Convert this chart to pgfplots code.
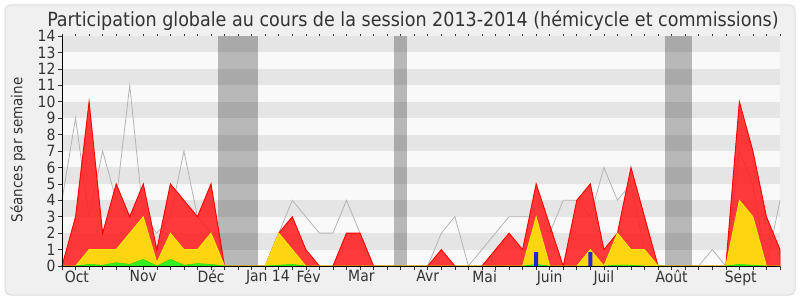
\documentclass[border=0pt]{standalone}
\usepackage{fontspec}
\setmainfont{DejaVu Sans Condensed}
\usepackage{pgfplots}
\usepackage{pgfplotstable}
\pgfplotsset{compat=1.18}
\definecolor{bgc}{HTML}{F0F0F0}
\definecolor{frame}{HTML}{DCDCDC}
\definecolor{stlight}{HTML}{F9F9F9}
\definecolor{stdark}{HTML}{E5E5E5}
\definecolor{redfill}{HTML}{FF2020}
\definecolor{yelfill}{HTML}{FFD410}
\definecolor{yelline}{HTML}{F2EE00}
\definecolor{grnfill}{HTML}{33EE22}
\definecolor{grnline}{HTML}{22DD00}
\definecolor{greyline}{HTML}{B4B4B4}
\definecolor{bluebar}{HTML}{2424D8}
\definecolor{txt}{HTML}{333333}
\pgfplotstableread{
x red yel grn gry
0 0 0 0 4
1 3 0 0 9
2 10 1 0.1 3
3 2 1 0.05 7
4 5 1 0.2 4
5 3 2 0.1 11
6 5 3 0.4 3
7 1 0.2 0 2
8 5 2 0.4 3
9 4 1 0.05 7
10 3 1 0.15 3
11 5 2 0.1 2
12 0 0 0 0
13 0 0 0 0
14 0 0 0 0
15 0 0 0 0
16 2 2 0.05 2
17 3 1 0.1 4
18 1 0 0 3
19 0 0 0 2
20 0 0 0 2
21 2 0 0 4
22 2 0 0 2
23 0 0 0 0
24 0 0 0 0
25 0 0 0 0
26 0 0 0 0
27 0 0 0 0
28 1 0 0 2
29 0 0 0 3
30 0 0 0 0
31 0 0 0 1
32 1 0 0 2
33 2 0 0 3
34 1 0 0 3
35 5 3 0.1 3
36 2.5 0 0 2
37 0 0 0 4
38 4 0 0 4
39 5 1 0 3
40 1 0 0 6
41 2 2 0.05 4
42 6 1 0.05 5
43 3 1 0 1
44 0 0 0 0
45 0 0 0 0
46 0 0 0 0
47 0 0 0 0
48 0 0 0 1
49 0 0 0 0
50 10 4 0.1 7
51 7 3 0.05 5
52 3 0 0 0
53 1 0 0 4
}\data
\begin{document}
\begin{tikzpicture}[x=1pt,y=1pt]
\fill[white] (0,0) rectangle (800,300);
\filldraw[fill=bgc, draw=frame, line width=1pt, rounded corners=5pt] (5,5) rectangle (795,295);
\node[anchor=base, text=txt, font=\fontsize{19.5}{19.5}\selectfont] at (413,273.3) {Participation globale au cours de la session 2013-2014 (hémicycle et commissions)};
\node[rotate=90, text=txt, font=\fontsize{15}{15}\selectfont] at (18,150) {Séances par semaine};
\begin{axis}[
  at={(62pt,34pt)}, anchor=south west, scale only axis,
  width=718pt, height=230pt,
  xmin=0, xmax=53, ymin=0, ymax=14,
  axis on top,
  axis lines=left, axis line style={-, black, line width=0.9pt},
  tick align=outside,
  xtick={0,...,53}, xticklabels={},
  ytick={0,...,14},
  major tick length=4pt,
  tick style={txt, line width=0.6pt},
  /pgf/number format/assume math mode=true,
  yticklabel style={font=\fontsize{15.5}{15.5}\selectfont, text=txt, xshift=1pt},
  extra x ticks={1.1,6,11,15.2,18.2,22.1,27,31.2,36,40,45,50.1},
  extra x tick labels={Oct,Nov,Déc,Jan 14,Fév,Mar,Avr,Mai,Juin,Juil,Août,Sept},
  extra x tick style={major tick length=0pt, xticklabel style={font=\fontsize{15.5}{15.5}\selectfont, text=txt, yshift=-1pt}},
  clip=false,
]
\fill[stlight] (axis cs:0,0) rectangle (axis cs:53,14);
\foreach \k in {1,3,5,7,9,11,13} {
  \edef\tmp{\noexpand\fill[stdark] (axis cs:0,\k) rectangle (axis cs:53,\k+1);}\tmp
}
\fill[black, opacity=0.26] (axis cs:11.5,0) rectangle (axis cs:14.5,14);
\fill[black, opacity=0.26] (axis cs:24.5,0) rectangle (axis cs:25.5,14);
\fill[black, opacity=0.26] (axis cs:44.5,0) rectangle (axis cs:46.5,14);
\addplot[draw=greyline, line width=0.8pt] table[x=x,y=gry]{\data};
\addplot[fill=redfill, fill opacity=0.88, draw=red, line width=0.9pt] table[x=x,y=red]{\data} \closedcycle;
\addplot[fill=yelfill, draw=yelline, line width=0.8pt] table[x=x,y=yel]{\data} \closedcycle;
\addplot[fill=grnfill, draw=grnline, line width=0.5pt] table[x=x,y=grn]{\data} \closedcycle;
\addplot[ybar, bar width=4pt, fill=bluebar, draw=none] coordinates {(35,0.85) (39,0.85)};
\end{axis}
\begin{axis}[
  at={(62pt,34pt)}, anchor=south west, scale only axis,
  width=718pt, height=230pt,
  xmin=0, xmax=53, ymin=0, ymax=14,
  axis x line=top, axis y line=none, axis line style={draw=none},
  xtick={0,...,53}, xticklabels={},
  tick align=outside, major tick length=2pt,
  tick style={txt, line width=0.6pt},
]
\end{axis}
\end{tikzpicture}
\end{document}
